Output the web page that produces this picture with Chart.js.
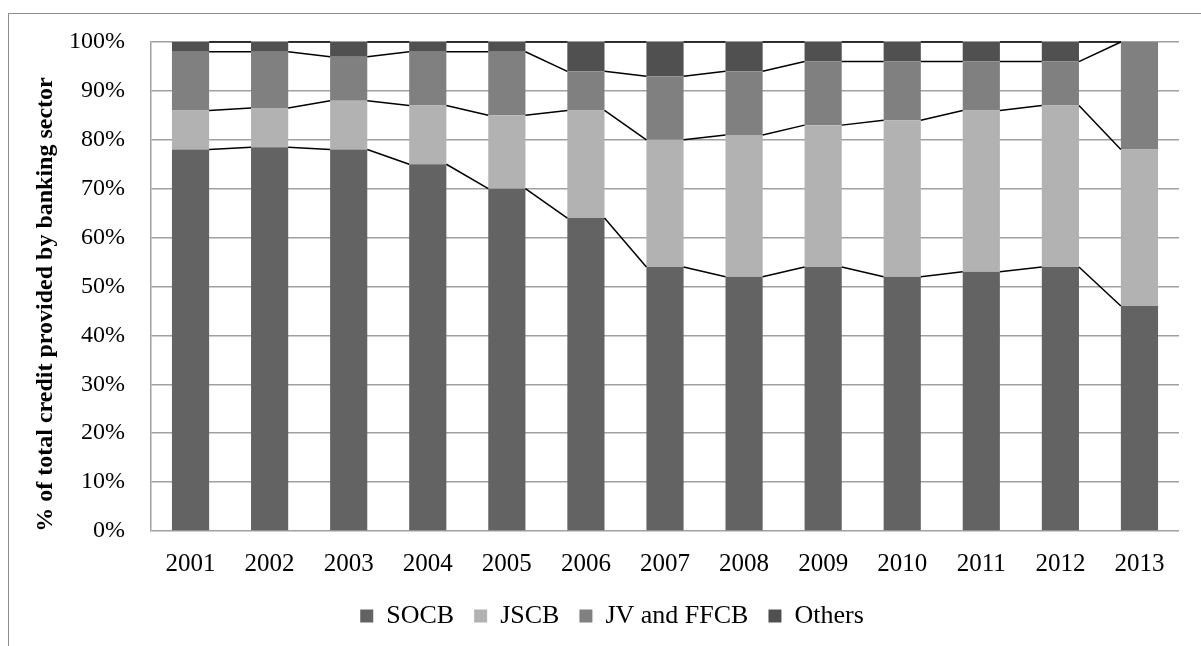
<!DOCTYPE html>
<html>
<head>
<meta charset="utf-8">
<script src="https://cdn.jsdelivr.net/npm/chart.js@4"></script>
<style>
  html, body { margin: 0; padding: 0; background: #fff; }
  #frame { position: absolute; left: 8px; top: 13px; width: 1260px; height: 700px; border: 1.5px solid #8c8c8c; box-sizing: border-box; }
  #wrap { position: absolute; left: 0; top: 0; width: 1201px; height: 646px; }
</style>
</head>
<body>
<div id="frame"></div>
<div id="wrap"><canvas id="c" width="1201" height="646"></canvas></div>
<script>
const years = ['2001','2002','2003','2004','2005','2006','2007','2008','2009','2010','2011','2012','2013'];
const socb   = [78, 78.5, 78, 75, 70, 64, 54, 52, 54, 52, 53, 54, 46];
const jscb   = [8, 8, 10, 12, 15, 22, 26, 29, 29, 32, 33, 33, 32];
const jvffcb = [12, 11.5, 9, 11, 13, 8, 13, 13, 13, 12, 10, 9, 22];
const others = [2, 2, 3, 2, 2, 6, 7, 6, 4, 4, 4, 4, 0];
const seriesNames = ['SOCB', 'JSCB', 'JV and FFCB', 'Others'];
const seriesColors = ['#636363', '#b2b2b2', '#808080', '#505050'];
const yTicks = [0,10,20,30,40,50,60,70,80,90,100];

const seriesLines = {
  id: 'seriesLines',
  afterDatasetsDraw(chart) {
    const ctx = chart.ctx;
    ctx.save();
    ctx.strokeStyle = '#000';
    ctx.lineWidth = 1.5;
    chart.data.datasets.forEach((ds, i) => {
      const meta = chart.getDatasetMeta(i);
      const els = meta.data;
      for (let j = 0; j < els.length - 1; j++) {
        const a = els[j], b = els[j + 1];
        ctx.beginPath();
        ctx.moveTo(a.x + a.width / 2, a.y);
        ctx.lineTo(b.x - b.width / 2, b.y);
        ctx.stroke();
      }
    });
    ctx.restore();
  }
};

const fam = '"Liberation Serif", "Times New Roman", serif';

new Chart(document.getElementById('c'), {
  type: 'bar',
  data: {
    labels: years,
    datasets: [socb, jscb, jvffcb, others].map((d, i) => ({
      label: seriesNames[i],
      data: d,
      backgroundColor: seriesColors[i],
      borderWidth: 0,
      barPercentage: 0.47,
      categoryPercentage: 1
    }))
  },
  options: {
    responsive: false,
    animation: false,
    layout: { padding: { top: 42, right: 22, left: 45, bottom: 7 } },
    plugins: {
      legend: {
        position: 'bottom',
        labels: { font: { family: fam, size: 26 }, color: '#000', boxWidth: 13, boxHeight: 13, padding: 20 }
      },
      tooltip: { enabled: false }
    },
    scales: {
      x: {
        stacked: true,
        afterFit(scale) { scale.height = 52; },
        grid: { display: false, drawTicks: false },
        border: { display: false },
        ticks: { font: { family: fam, size: 25 }, color: '#000', padding: 18, maxRotation: 0 }
      },
      y: {
        stacked: true,
        min: 0, max: 100,
        afterFit(scale) { scale.width = 106; },
        afterBuildTicks(scale) { scale.ticks = yTicks.map(v => ({ value: v })); },
        grid: { color: '#a0a0a0', lineWidth: 1.5, drawTicks: false },
        border: { display: true, color: '#a0a0a0', width: 1.5 },
        ticks: { font: { family: fam, size: 24 }, color: '#000', padding: 26, callback: v => v + '%' },
        title: {
          display: true,
          text: '% of total credit provided by banking sector\u00a0\u00a0\u00a0\u00a0\u00a0\u00a0',
          font: { family: fam, size: 24, weight: 'bold' },
          color: '#000',
          padding: { top: -14, bottom: 0 }
        }
      }
    }
  },
  plugins: [seriesLines]
});
</script>
</body>
</html>
